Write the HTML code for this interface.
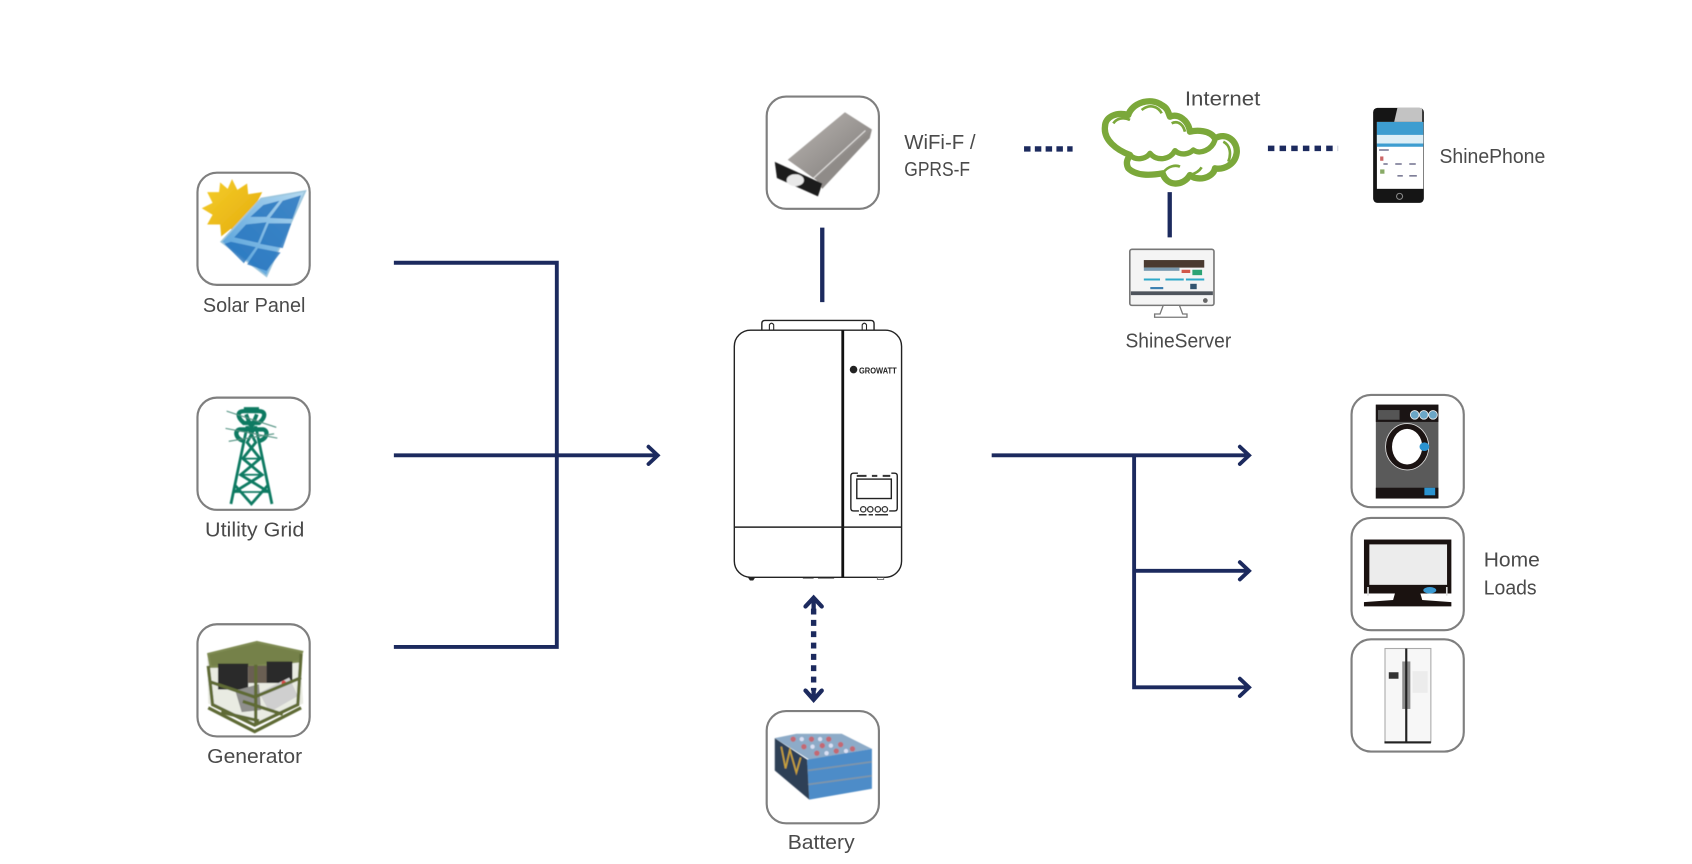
<!DOCTYPE html>
<html lang="en">
<head>
<meta charset="utf-8">
<title>Growatt system diagram</title>
<style>
html,body{margin:0;padding:0;background:#fff;width:1692px;height:864px;overflow:hidden}
svg{display:block}
text{font-family:"Liberation Sans",sans-serif;font-size:18.5px;fill:#4a4a4a}
.card{fill:#fff;stroke:#7f7f7f;stroke-width:2}
.ln{stroke:#1c2a5e;stroke-width:3.6;fill:none}
.ar{stroke:#1c2a5e;stroke-width:3.6;fill:none;stroke-linecap:round;stroke-linejoin:miter}
.dot{stroke:#1c2a5e;stroke-width:5;fill:none}
.inv{fill:none;stroke:#222;stroke-width:1.3}
</style>
</head>
<body>
<svg width="1692" height="864" viewBox="0 0 1568 800.7" preserveAspectRatio="none" xmlns="http://www.w3.org/2000/svg">
<defs>
<linearGradient id="sun" x1="0" y1="0" x2="1" y2="1"><stop offset="0" stop-color="#f6cf2a"/><stop offset="1" stop-color="#e2a80c"/></linearGradient>
<linearGradient id="pan" x1="0" y1="1" x2="1" y2="0"><stop offset="0" stop-color="#4a9ad8"/><stop offset="1" stop-color="#b5daf0"/></linearGradient>
<linearGradient id="mod" x1="0" y1="0" x2="1" y2="1"><stop offset="0" stop-color="#bdb8b4"/><stop offset="1" stop-color="#7a7775"/></linearGradient>
<filter id="b" x="-5%" y="-5%" width="110%" height="110%"><feGaussianBlur stdDeviation=".6"/></filter>
</defs>
<rect width="1568" height="800.7" fill="#fff"/>

<!-- cards -->
<rect class="card" x="183" y="160" width="104" height="104" rx="18"/>
<rect class="card" x="183" y="368.500" width="104" height="104" rx="18"/>
<rect class="card" x="183" y="578.500" width="104" height="104" rx="18"/>
<rect class="card" x="710.500" y="89.500" width="104" height="104" rx="18"/>
<rect class="card" x="710.500" y="659" width="104" height="104" rx="18"/>
<rect class="card" x="1252.500" y="366" width="104" height="104" rx="18"/>
<rect class="card" x="1252.500" y="480" width="104" height="104" rx="18"/>
<rect class="card" x="1252.500" y="592.500" width="104" height="104" rx="18"/>

<!-- solar -->
<g filter="url(#b)">
<polygon fill="url(#sun)" points="215,166 220,176 229,170 230,180 243,178 238,188 244,195 235,200 238,211 227,210 222,221 214,212 205,219 204,208 192,208 197,199 187,193 197,188 192,178 203,178 204,169 211,175"/>
<polygon fill="url(#pan)" stroke="#9cc6dd" stroke-width="1.500" points="283,177 242,184 205,224 247,256"/>
<g fill="#2272bd" opacity=".8">
<polygon points="262,186 279,181 271,203 250,202"/>
<polygon points="244,190 259,186 247,201 232,201"/>
<polygon points="228,208 247,206 239,225 217,220"/>
<polygon points="249,207 270,207 262,230 241,226"/>
<polygon points="214,224 237,229 226,244 208,226"/>
<polygon points="239,230 260,234 247,251 229,245"/>
</g>
</g>

<!-- tower -->
<g fill="none" stroke="#0e7a62" stroke-width="2.600" filter="url(#b)">
<path d="M214,467 L229,395 M252,467 L237,395"/>
<path d="M229,395 L237,410 L225,425 L243,440 L217,456 M237,395 L229,410 L241,425 L223,440 L249,456 M218,450 L233,467 L248,450"/>
<path d="M225,425 H241 M223,440 H243 M217,456 H249" stroke-width="1.600"/>
<path d="M226,379 H240 M228,384 L233,396 L238,384" stroke-width="3.500"/>
<path d="M226,392 C219,386 220,381 226,381 H240 C246,381 247,386 240,392 Z" stroke-width="4"/>
<path d="M227,409 C218,407 217,399 222,398 H244 C249,399 248,407 239,409" stroke-width="4"/>
<path d="M210,381 L256,396 M209,397 L257,406 M212,409 L254,402" stroke-width="1" stroke="#4d8f7e"/>
</g>

<!-- generator -->
<g filter="url(#b)">
<polygon fill="#e9ebe2" points="192,610 278,606 281,652 238,672 193,652"/>
<polygon fill="#75814a" stroke="#7f8b52" stroke-width="2" points="193,606 238,595 280,604 277,613 238,617 195,618"/>
<rect x="202" y="615" width="28" height="24" fill="#2a2a2c"/>
<rect x="247" y="613" width="24" height="20" fill="#2a2a2c"/>
<rect x="230" y="617" width="17" height="16" fill="#6a5f52"/>
<polygon fill="#cfcfcf" points="240,642 268,628 276,645 250,660"/>
<polygon fill="#8f8f8c" points="218,640 240,634 242,658 224,660"/>
<circle cx="263" cy="633" r="2.200" fill="#d44"/>
<g fill="none" stroke="#5f6b35" stroke-width="3"><path d="M193,617 L197,653 L236,672 L276,653 L279,606"/><path d="M237,616 L237,672"/><path d="M195,632 L236,646 L279,628"/><path d="M193,656 L236,678 L279,656"/><path d="M205,660 L240,668 M225,650 L262,662"/></g>
</g>

<!-- wifi module -->
<g filter="url(#b)">
<polygon fill="url(#mod)" points="783,104 808,120 758,168 730,148"/>
<polygon fill="#8f8b88" points="808,120 806,128 762,175 756,166"/>
<path d="M802,121 L754,165" stroke="#e2e0de" stroke-width="1"/>
<polygon fill="#1a1a1a" points="718,150 762,170 758,182 720,165"/>
<ellipse cx="737" cy="167" rx="8" ry="5.500" fill="#e8e8e8"/>
</g>

<!-- battery -->
<g filter="url(#b)">
<polygon fill="#8dabc8" points="718,684 738,680 780,680 808,694 750,704"/>
<g fill="#c9626a" opacity=".9"><circle cx="735" cy="685" r="2.500"/><circle cx="752" cy="685" r="2.500"/><circle cx="768" cy="685" r="2.500"/><circle cx="745" cy="692" r="2.500"/><circle cx="762" cy="691" r="2.500"/><circle cx="779" cy="690" r="2.500"/><circle cx="757" cy="698" r="2.500"/><circle cx="775" cy="696" r="2.500"/><circle cx="790" cy="694" r="2.500"/></g>
<g fill="#eef" opacity=".8"><circle cx="743" cy="685" r="2"/><circle cx="760" cy="685" r="2"/><circle cx="753" cy="692" r="2"/><circle cx="770" cy="691" r="2"/><circle cx="766" cy="698" r="2"/><circle cx="784" cy="696" r="2"/></g>
<polygon fill="#4d8cc8" points="748,704 808,694 808,731 750,741"/>
<polygon fill="#2f4056" points="718,684 748,704 750,741 718,714"/>
<path d="M724,692 L728,712 L732,695 L738,716 L742,702" fill="none" stroke="#c9a23a" stroke-width="1.500"/>
<path d="M749,714 L808,706 M749,727 L808,719" stroke="#8095a8" stroke-width="1.500" fill="none"/>
</g>

<!-- washer -->
<rect x="1275" y="375" width="58" height="87" fill="#5a5a5a"/>
<rect x="1275" y="375" width="58" height="16" fill="#1a1414"/>
<rect x="1275" y="452" width="58" height="10" fill="#1a1414"/>
<rect x="1320" y="452" width="10" height="7" fill="#2a93d0"/>
<rect x="1277" y="380" width="20" height="9" fill="#555"/>
<g fill="#6ba6c6" stroke="#eee" stroke-width=".8"><circle cx="1311" cy="384.500" r="4"/><circle cx="1319.500" cy="384.500" r="4"/><circle cx="1328" cy="384.500" r="4"/></g>
<ellipse cx="1304" cy="414" rx="20" ry="21.500" fill="#1b1312" stroke="#ddd" stroke-width=".8"/>
<ellipse cx="1304" cy="414" rx="14" ry="16.500" fill="#fff"/>
<ellipse cx="1320" cy="414" rx="4.500" ry="4" fill="#2a93d0"/>

<!-- TV -->
<rect x="1264" y="500" width="81" height="50" fill="#1a1210"/>
<rect x="1269" y="504.500" width="72" height="37.500" fill="#ececec"/>
<rect x="1267" y="544" width="1.500" height="8" fill="#ddd"/><rect x="1340" y="544" width="1.500" height="8" fill="#ddd"/>
<ellipse cx="1325" cy="547" rx="6" ry="3" fill="#3a9ad2"/>
<polygon fill="#1a1210" points="1293,549 1316,549 1318,556 1345,558 1345,562 1264,562 1264,558 1291,556"/>

<!-- fridge -->
<rect x="1283.500" y="601" width="42.500" height="87" fill="#f7f7f7" stroke="#aaa" stroke-width="1"/>
<rect x="1309" y="622" width="14" height="20" fill="#ececec"/>
<rect x="1299.500" y="613" width="7.500" height="44" fill="#8e8e8e"/>
<rect x="1302.200" y="601" width="2" height="87" fill="#222"/>
<rect x="1287" y="623" width="9" height="6" fill="#333"/>
<rect x="1283" y="687" width="43" height="2" fill="#222"/>

<!-- lines left -->
<path class="ln" d="M365,243.500 H516 V599.500 H365"/>
<path class="ln" d="M365,422 H608"/>
<path class="ar" d="M601,414 L609.500,422 L601,430"/>

<!-- wifi to inverter -->
<path class="ln" d="M762,211 V280" style="stroke-width:4"/>

<!-- dotted -->
<path class="dot" d="M949,138 H994" stroke-dasharray="6 4"/>
<path class="dot" d="M1175,137.500 H1240" stroke-dasharray="6 4.800"/>
<path class="ln" d="M1084,178 V220" style="stroke-width:4"/>

<!-- battery double arrow -->
<path class="dot" d="M754,564 V640" stroke-dasharray="5.500 5"/>
<path class="ln" d="M754,555 V566 M754,638 V648" style="stroke-width:4"/>
<path class="ar" d="M746.500,562 L754,554 L761.500,562" style="stroke-width:4"/>
<path class="ar" d="M746.500,640 L754,648.500 L761.500,640" style="stroke-width:4"/>

<!-- output -->
<path class="ln" d="M919,422 H1155 M1051,422 V637 H1155 M1051,529 H1155"/>
<path class="ar" d="M1149,414 L1157.500,422 L1149,430"/>
<path class="ar" d="M1149,521 L1157.500,529 L1149,537"/>
<path class="ar" d="M1149,629 L1157.500,637 L1149,645"/>

<!-- inverter -->
<path class="inv" d="M706,306 V300 Q706,297 709,297 H807 Q810,297 810,300 V306"/>
<path class="inv" d="M713,306 V301 Q715,298 717,301 V306 M799,306 V301 Q801,298 803,301 V306" style="stroke-width:1"/>
<rect class="inv" x="680.500" y="306" width="155" height="229" rx="15"/>
<path d="M781,306 V535" stroke="#111" stroke-width="2.600"/>
<path class="inv" d="M680.500,488.500 H835.500"/>
<circle cx="791" cy="342.500" r="3.500" fill="#222"/>
<text x="796" y="346" style="font-size:8px;fill:#222;font-weight:bold" textLength="35" lengthAdjust="spacingAndGlyphs">GROWATT</text>
<path class="inv" d="M795,438.500 H791 Q788.500,438.500 788.500,441 V471 Q788.500,473.500 791,473.500 H796 M826,438.500 H829 Q831.500,438.500 831.500,441 V471 Q831.500,473.500 829,473.500 H824"/>
<rect class="inv" x="794" y="444" width="32" height="18"/>
<path d="M794,441 H803 M808,441 H813 M818,441 H825" stroke="#333" stroke-width="1.800"/>
<g fill="none" stroke="#333" stroke-width="1.200"><circle cx="800" cy="472" r="2.500"/><circle cx="806.500" cy="472" r="2.500"/><circle cx="813.500" cy="472" r="2.500"/><circle cx="820" cy="472" r="2.500"/></g>
<path d="M796,477 H803 M805,477 H809 M811,477 H823" stroke="#333" stroke-width="1.400"/>
<path d="M693,535 H700 L698,538 H695 Z" fill="#222"/>
<path d="M744,535.500 H754 M758,535.500 H773" stroke="#222" stroke-width="1.200"/>
<rect x="813" y="535" width="6" height="2" fill="none" stroke="#555" stroke-width=".7"/>

<!-- cloud -->
<g transform="scale(.9267) translate(1100,90) scale(.3333)">
<path fill="#fff" stroke="#7ba83a" stroke-width="19" stroke-linejoin="round" d="M15,110 C15,80 50,65 85,75 C95,40 150,20 185,45 C205,55 205,70 210,80 C235,70 265,90 270,125 C290,120 330,120 345,145 C380,125 415,155 410,190 C405,225 370,240 345,235 C340,265 290,275 270,255 C250,290 200,290 188,250 C160,255 110,260 85,235 C75,215 85,205 90,195 C50,180 10,150 15,110 Z"/>
<path fill="none" stroke="#7ba83a" stroke-width="16" stroke-linejoin="round" d="M90,195 C110,215 140,205 150,190 C170,215 210,210 225,182 C245,200 270,190 280,180 C300,195 335,180 345,150"/>
<path fill="none" stroke="#7ba83a" stroke-width="8" d="M188,250 C205,225 230,225 240,230 M40,100 C50,85 70,80 90,90 M125,60 C150,40 175,50 185,70 M215,100 C235,90 250,105 255,125 M370,155 C390,165 395,190 385,215 M270,255 C290,250 300,240 305,232"/>
</g>

<!-- monitor -->
<rect x="1047" y="231" width="78" height="52" rx="2" fill="#f4f4f4" stroke="#777" stroke-width="1.500"/>
<rect x="1048" y="270" width="76" height="3.500" fill="#4e545c"/>
<rect x="1060" y="241" width="56" height="7" fill="#4a3a30"/>
<rect x="1060" y="248" width="33" height="3" fill="#7a9ab0"/>
<rect x="1095" y="250" width="8" height="3" fill="#d0584a"/>
<rect x="1105" y="250" width="9" height="5" fill="#2ba374"/>
<path d="M1060,259 H1075 M1080,259 H1097 M1099,259 H1116" stroke="#2fa9c9" stroke-width="1.800"/>
<rect x="1066" y="266" width="12" height="2" fill="#3b7fb0"/>
<rect x="1103" y="263" width="6" height="5" fill="#33546f"/>
<circle cx="1117" cy="278.500" r="2.200" fill="#666"/>
<path d="M1078,283 L1075,291 H1070 V294 H1100 V291 H1096 L1093,283 Z" fill="#fff" stroke="#777" stroke-width="1.200"/>

<!-- phone -->
<rect x="1272.500" y="100" width="47" height="88" rx="4" fill="#151515"/>
<polygon points="1295,100 1318,100 1318,113 1292,113" fill="#c3c3c3"/>
<rect x="1276" y="113" width="43" height="62" fill="#fff"/>
<rect x="1276" y="113" width="43" height="23" fill="#3d9dd0"/>
<rect x="1276" y="125" width="43" height="8" fill="#dceef6"/>
<path d="M1278,139 H1287 M1282,152 H1286 M1293,152 H1299 M1306,152 H1312 M1295,163 H1300 M1306,163 H1313" stroke="#557" stroke-width="1.200"/>
<rect x="1279" y="157" width="4" height="4" fill="#8a6"/>
<rect x="1279" y="145" width="3" height="4" fill="#c66"/>
<circle cx="1297" cy="182" r="2.800" fill="none" stroke="#888" stroke-width="1"/>

<!-- labels -->
<text x="188" y="289" textLength="95" lengthAdjust="spacingAndGlyphs">Solar Panel</text>
<text x="190" y="497" textLength="92" lengthAdjust="spacingAndGlyphs">Utility Grid</text>
<text x="192" y="707" textLength="88" lengthAdjust="spacingAndGlyphs">Generator</text>
<text x="838" y="138" textLength="66" lengthAdjust="spacingAndGlyphs">WiFi-F /</text>
<text x="838" y="163" textLength="61" lengthAdjust="spacingAndGlyphs">GPRS-F</text>
<text x="1098" y="98" textLength="70" lengthAdjust="spacingAndGlyphs">Internet</text>
<text x="1334" y="151" textLength="98" lengthAdjust="spacingAndGlyphs">ShinePhone</text>
<text x="1043" y="322" textLength="98" lengthAdjust="spacingAndGlyphs">ShineServer</text>
<text x="1375" y="525" textLength="52" lengthAdjust="spacingAndGlyphs">Home</text>
<text x="1375" y="551" textLength="49" lengthAdjust="spacingAndGlyphs">Loads</text>
<text x="730" y="787" textLength="62" lengthAdjust="spacingAndGlyphs">Battery</text>
</svg>
</body>
</html>
